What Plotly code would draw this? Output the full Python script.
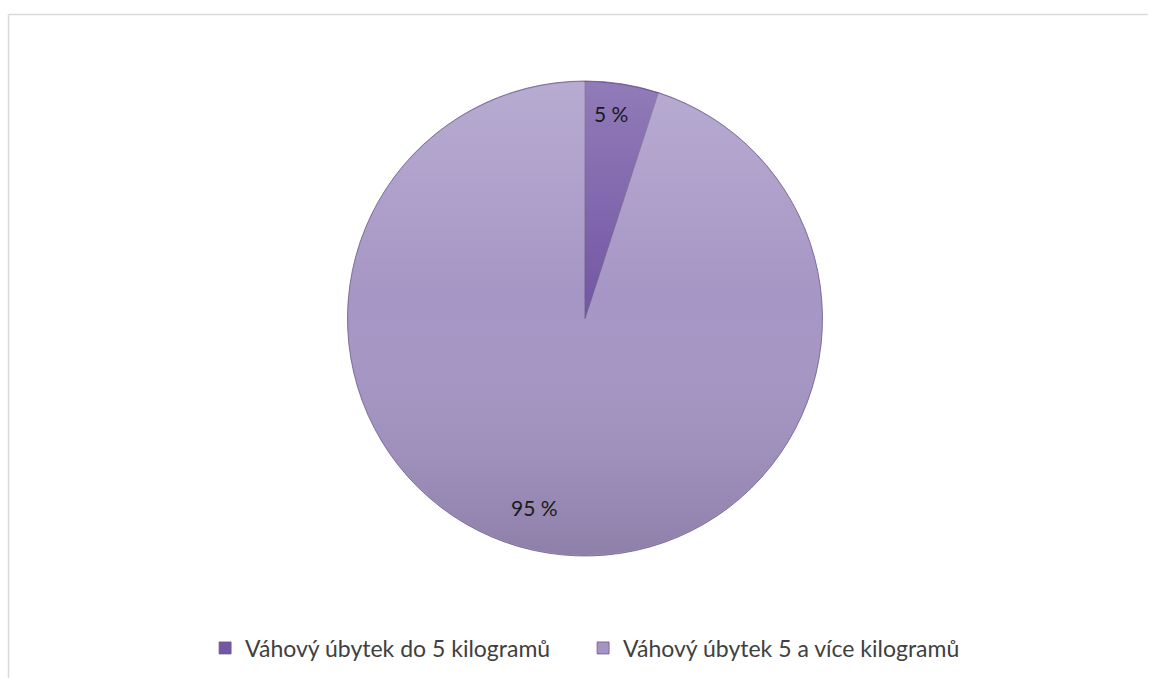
import base64
import plotly.graph_objects as go

# Podíl pacientů podle váhového úbytku
categories = ["Váhový úbytek do 5 kilogramů", "Váhový úbytek 5 a více kilogramů"]
shares = [5, 95]
slice_colors = ["#7356a4", "#a494c4"]

# Label positions (paper coordinates) for the percentage texts
label_pos = [(0.5318, 0.8319), (0.4648, 0.2522)]

W, H = 1149, 678
pie_x = [347 / W, 823 / W]
pie_y = [1 - 556 / H, 1 - 81 / H]

fig = go.Figure()

fig.add_trace(go.Pie(
    labels=categories,
    values=shares,
    sort=False,
    direction="clockwise",
    rotation=0,
    textinfo="none",
    hoverinfo="label+percent",
    marker=dict(colors=slice_colors, line=dict(color="#6a5888", width=0.8)),
    domain=dict(x=pie_x, y=pie_y),
))

annotations = []
for v, (x, y) in zip(shares, label_pos):
    annotations.append(dict(
        x=x, y=y, xref="paper", yref="paper",
        text=f"{v} %", showarrow=False,
        font=dict(family="Lato, Open Sans, sans-serif", size=21, color="#1a1a1a"),
        xanchor="center", yanchor="middle",
    ))

# Soft vertical shading over the disc (light top, darker bottom)
shade_svg = (
    "<svg xmlns='http://www.w3.org/2000/svg' width='200' height='200' viewBox='0 0 200 200'>"
    "<defs><linearGradient id='g' x1='0' y1='0' x2='0' y2='1'>"
    "<stop offset='0' stop-color='#ffffff' stop-opacity='0.22'/>"
    "<stop offset='0.45' stop-color='#ffffff' stop-opacity='0.02'/>"
    "<stop offset='1' stop-color='#000000' stop-opacity='0.14'/>"
    "</linearGradient></defs>"
    "<circle cx='100' cy='100' r='99.6' fill='url(#g)'/></svg>"
)
shade_src = "data:image/svg+xml;base64," + base64.b64encode(shade_svg.encode()).decode()

images = [dict(
    source=shade_src, xref="paper", yref="paper",
    x=pie_x[0], y=pie_y[1],
    sizex=pie_x[1] - pie_x[0], sizey=pie_y[1] - pie_y[0],
    xanchor="left", yanchor="top", sizing="stretch", layer="above",
)]

# Thin frame around the chart area (top and left edges visible)
shapes = [
    dict(type="line", xref="paper", yref="paper",
         x0=8.5 / W, x1=1148 / W, y0=1 - 14.5 / H, y1=1 - 14.5 / H,
         line=dict(color="#d9d9d9", width=1.5)),
    dict(type="line", xref="paper", yref="paper",
         x0=8.5 / W, x1=8.5 / W, y0=0, y1=1 - 14.5 / H,
         line=dict(color="#d9d9d9", width=1.5)),
]

fig.update_layout(
    width=W, height=H,
    margin=dict(l=0, r=0, t=0, b=0),
    paper_bgcolor="white",
    plot_bgcolor="white",
    annotations=annotations,
    shapes=shapes,
    images=images,
    showlegend=True,
    legend=dict(
        orientation="h",
        x=0.1785, y=1 - 648 / H,
        xanchor="left", yanchor="middle",
        font=dict(family="Lato, Open Sans, sans-serif", size=23, color="#404040"),
        itemwidth=30,
        entrywidth=333,
        traceorder="normal",
    ),
)

fig.write_html("out.html")
